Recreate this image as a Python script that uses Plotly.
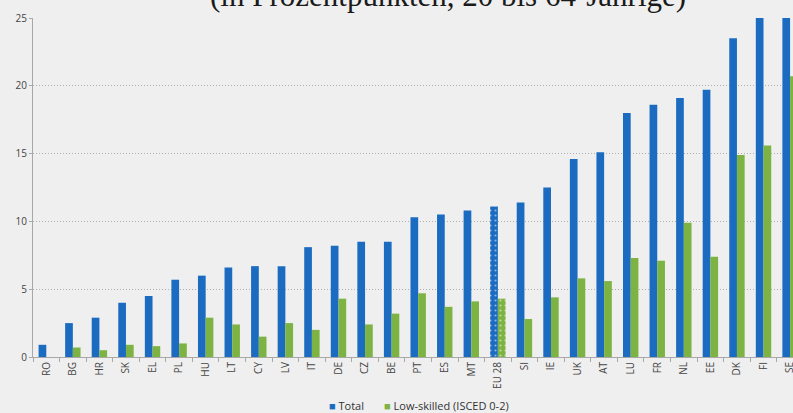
import plotly.graph_objects as go

countries = ["RO", "BG", "HR", "SK", "EL", "PL", "HU", "LT", "CY", "LV", "IT", "DE", "CZ", "BE",
             "PT", "ES", "MT", "EU 28", "SI", "IE", "UK", "AT", "LU", "FR", "NL", "EE", "DK", "FI", "SE"]
total = [0.9, 2.5, 2.9, 4.0, 4.5, 5.7, 6.0, 6.6, 6.7, 6.7, 8.1, 8.2, 8.5, 8.5,
         10.3, 10.5, 10.8, 11.1, 11.4, 12.5, 14.6, 15.1, 18.0, 18.6, 19.1, 19.7, 23.5, 25.4, 26.0]
low_skilled = [0.0, 0.7, 0.5, 0.9, 0.8, 1.0, 2.9, 2.4, 1.5, 2.5, 2.0, 4.3, 2.4, 3.2,
               4.7, 3.7, 4.1, 4.3, 2.8, 4.4, 5.8, 5.6, 7.3, 7.1, 9.9, 7.4, 14.9, 15.6, 20.7]
y_ticks = [0, 5, 10, 15, 20, 25]
series_names = ["Total", "Low-skilled (ISCED 0-2)"]
title_text = "(in Prozentpunkten, 20 bis 64-Jährige)"

BLUE = "#1b6cc0"
GREEN = "#7db343"
BG = "#efefef"

patterns = ["." if c == "EU 28" else "" for c in countries]

fig = go.Figure()
for vals, name, col in [(total, series_names[0], BLUE), (low_skilled, series_names[1], GREEN)]:
    fig.add_trace(go.Bar(
        x=countries, y=vals, name=name, showlegend=False, hoverinfo="skip",
        marker=dict(color=col, line=dict(width=0),
                    pattern=dict(shape=patterns, fgcolor="white", size=5, solidity=0.15,
                                 fillmode="overlay")),
    ))

legend_text = (f"<span style='color:{BLUE}'>■</span> {series_names[0]}"
               f"       <span style='color:{GREEN}'>■</span> {series_names[1]}")

fig.update_layout(
    width=793, height=413,
    margin=dict(l=33, r=0, t=18, b=56, autoexpand=False),
    paper_bgcolor=BG, plot_bgcolor=BG,
    barmode="group", bargap=0.42, bargroupgap=0,
    font=dict(family="Open Sans", size=10, color="#444"),
    showlegend=False, hovermode=False,
    annotations=[
        dict(text=title_text, xref="paper", yref="paper", x=0.546, y=1 + 3.0 / 339,
             xanchor="center", yanchor="bottom", showarrow=False,
             font=dict(family="Liberation Serif", size=31, color="#1a1a1a")),
        dict(text=legend_text, xref="paper", yref="paper", x=(419 - 33) / 760, y=-(405 - 357) / 339,
             xanchor="center", yanchor="middle", showarrow=False,
             font=dict(family="Open Sans", size=11, color="#333")),
    ],
)
fig.update_xaxes(
    range=[-0.5, 28.11], tickangle=-90, showline=True, linecolor="#a8a8a8", linewidth=1,
    ticks="outside", tickson="boundaries", ticklen=4, tickcolor="#a8a8a8",
    tickfont=dict(size=10, color="#444"), showgrid=False,
)
fig.update_yaxes(
    range=[0, 25], tickvals=y_ticks, showline=True, linecolor="#a8a8a8", linewidth=1,
    showgrid=True, gridcolor="#b0b0b0", griddash="1px,2px", gridwidth=1,
    ticks="outside", ticklen=3, tickcolor="#a8a8a8", tickfont=dict(size=10, color="#444"),
    zeroline=False,
)

fig.write_html("out.html", config={"displayModeBar": False, "staticPlot": True},
               post_script="document.body.style.margin='0px';document.body.style.overflow='hidden';")
